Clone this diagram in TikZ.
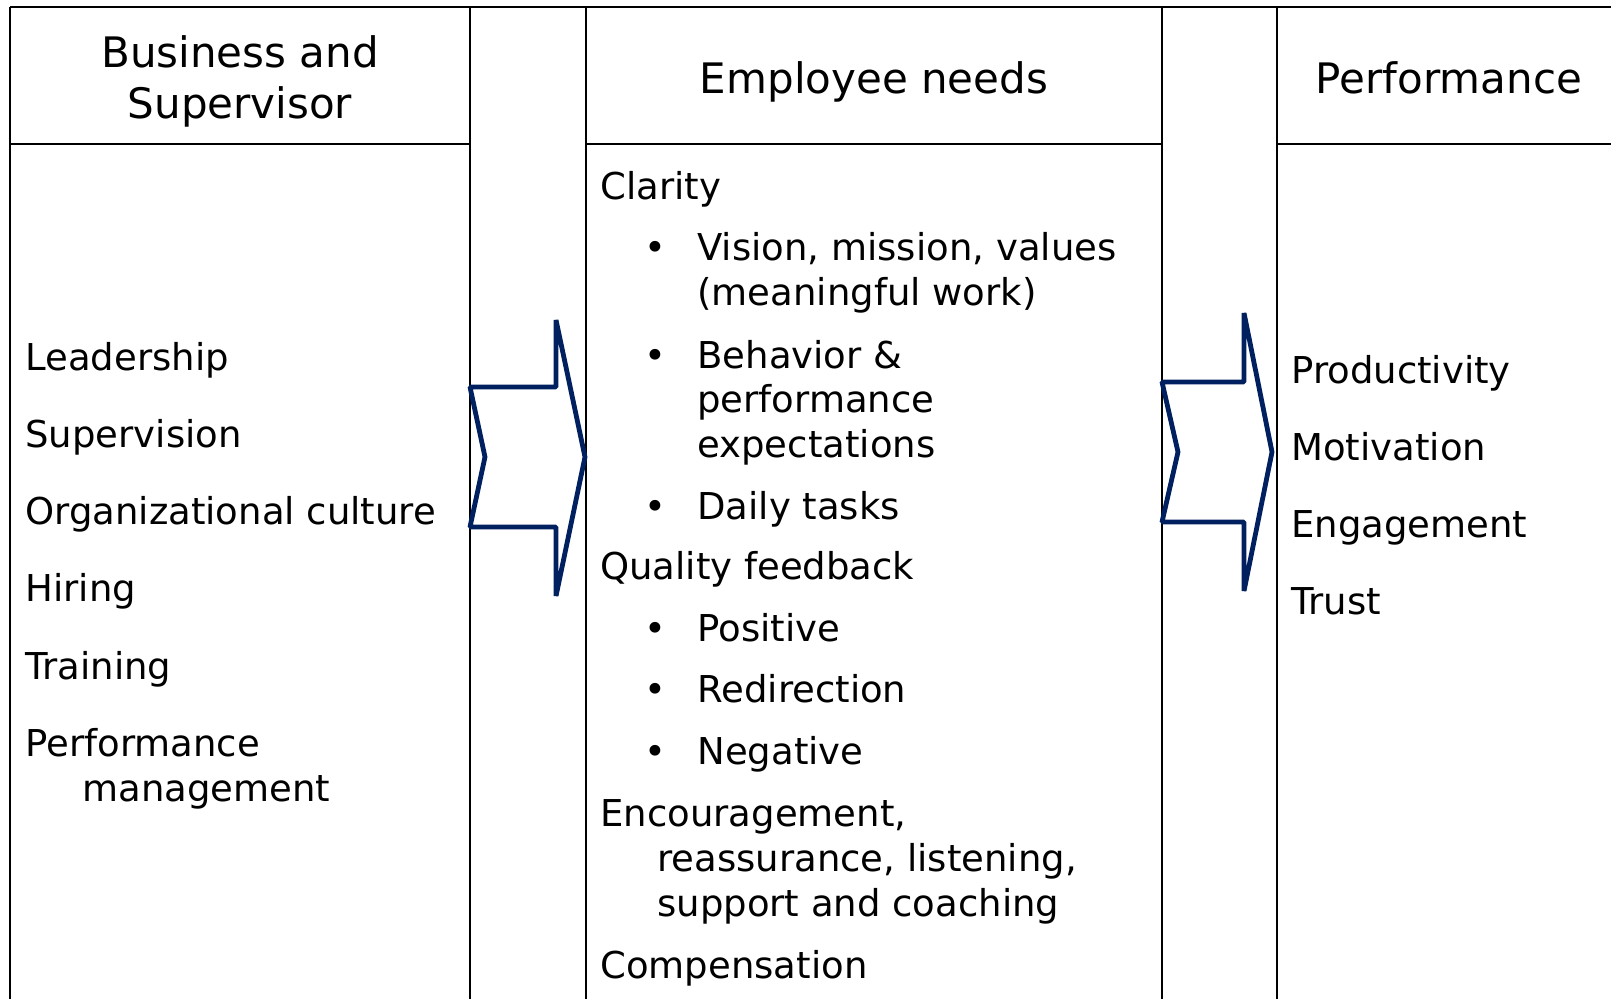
\documentclass[tikz,border=0pt]{standalone}
\usepackage{fontspec}
\setmainfont{DejaVu Sans}
\definecolor{navy}{HTML}{002060}
\begin{document}
\begin{tikzpicture}[x=0.5pt, y=-0.5pt,
    head/.style={align=center, inner sep=0pt, font=\fontsize{21}{25.5}\selectfont},
    item/.style={anchor=mid west, inner sep=0pt, font=\fontsize{18.5}{22.5}\selectfont},
    dot/.style={anchor=mid, inner sep=0pt, font=\fontsize{18.5}{22.5}\selectfont},
    rule/.style={line width=1.25pt},
    chevron/.style={draw=navy, line width=2.4pt, line join=bevel}
]
    \useasboundingbox (0,0) rectangle (1611,999);

    % Tabelle
    \draw[rule] (10,7) -- (1611,7);
    \foreach \xa/\xb in {10/470, 586/1162, 1277/1611}
        \draw[rule] (\xa,144) -- (\xb,144);
    \foreach \xc in {10, 470, 586, 1162, 1277}
        \draw[rule] (\xc,7) -- (\xc,999);

    % Kopfzeilen
    \node[head] (hbiz) at (240,81) {Business and\\Supervisor};
    \node[head] (hneeds) at (874,82) {Employee needs};
    \node[head] (hperf) at (1449,78) {Performance};

    % Business and Supervisor
    \node[item] (lead) at (25,365) {Leadership};
    \node[item] (superv) at (25,442) {Supervision};
    \node[item] (culture) at (25,519) {Organizational culture};
    \node[item] (hiring) at (25,596) {Hiring};
    \node[item] (training) at (25,674) {Training};
    \node[item] (perfmgmt) at (25,751) {Performance};
    \node[item] (perfmgmt2) at (82,796) {management};

    % Employee needs
    \node[item] (clarity) at (600,194) {Clarity};
    \node[dot] (b1) at (655,255) {\textbullet};
    \node[item] (vision) at (697,255) {Vision, mission, values};
    \node[item] (vision2) at (697,300) {(meaningful work)};
    \node[dot] (b2) at (655,363) {\textbullet};
    \node[item] (behav) at (697,363) {Behavior \&};
    \node[item] (behav2) at (697,407) {performance};
    \node[item] (behav3) at (697,452) {expectations};
    \node[dot] (b3) at (655,514) {\textbullet};
    \node[item] (daily) at (697,514) {Daily tasks};
    \node[item] (quality) at (600,574) {Quality feedback};
    \node[dot] (b4) at (655,636) {\textbullet};
    \node[item] (positive) at (697,636) {Positive};
    \node[dot] (b5) at (655,697) {\textbullet};
    \node[item] (redir) at (697,697) {Redirection};
    \node[dot] (b6) at (655,759) {\textbullet};
    \node[item] (negative) at (697,759) {Negative};
    \node[item] (encour) at (600,821) {Encouragement,};
    \node[item] (encour2) at (657,866) {reassurance, listening,};
    \node[item] (encour3) at (657,911) {support and coaching};
    \node[item] (comp) at (600,973) {Compensation};

    % Performance
    \node[item] (prod) at (1291,378) {Productivity};
    \node[item] (motiv) at (1291,455) {Motivation};
    \node[item] (engage) at (1291,532) {Engagement};
    \node[item] (trust) at (1291,609) {Trust};

    % Pfeile
    \draw[chevron] (470,387) -- (556,387) -- (556,320) -- (585,457) -- (556,596)
        -- (556,527) -- (470,527) -- (485,457) -- cycle;
    \draw[chevron] (1162,382) -- (1244,382) -- (1244,313) -- (1272,452) -- (1244,591)
        -- (1244,522) -- (1162,522) -- (1178,452) -- cycle;
\end{tikzpicture}
\end{document}
